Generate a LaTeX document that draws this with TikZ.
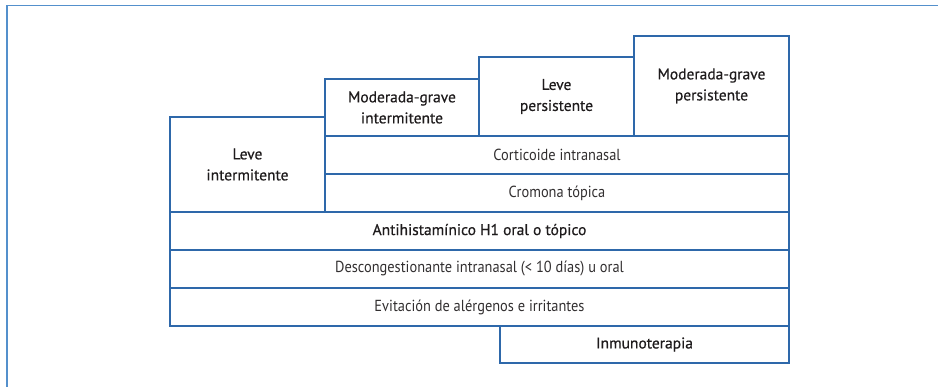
\documentclass[tikz,border=0pt]{standalone}
\usepackage{fontspec}
\setmainfont{PT Sans}
\newfontfamily\medfont{PT Sans}[FakeBold=0.5]
\newfontfamily\narrowfont{PT Sans}[FakeStretch=0.9]
\definecolor{framecol}{RGB}{84,144,204}
\definecolor{boxcol}{RGB}{46,104,170}
\definecolor{textcol}{RGB}{30,27,28}
\definecolor{lighttext}{RGB}{50,47,48}
\begin{document}
\begin{tikzpicture}[x=1pt, y=-1pt,
  cell/.style={draw=boxcol, line width=1.1pt, align=center, text=textcol,
    inner sep=0pt, font=\fontsize{15.5}{21}\selectfont\medfont},
  lightcell/.style={cell, text=lighttext, font=\fontsize{16}{20}\selectfont\narrowfont}]
\useasboundingbox (0,0) rectangle (938,387);

% Frame
\draw[framecol, line width=1.5pt] (7,387) -- (7,5.5) -- (938,5.5);

% Severity headers
\node[cell, minimum width=155, minimum height=95] (levint) at (247.5,164.5) {Leve\\intermitente};
\node[cell, minimum width=154, minimum height=57] (modint) at (402,107.5) {Moderada-grave\\intermitente};
\node[cell, minimum width=155, minimum height=79] (levper) at (556.5,96.5) {Leve\\persistente};
\node[cell, minimum width=155, minimum height=100] (modper) at (711.5,86) {Moderada-grave\\persistente};

% Treatment rows
\node[lightcell, minimum width=464, minimum height=38] (cortic) at (557,155) {Corticoide intranasal};
\node[lightcell, minimum width=464, minimum height=38] (cromona) at (557,193) {Cromona tópica};
\node[cell, minimum width=619, minimum height=38] (antih) at (479.5,231) {Antihistamínico H1 oral o tópico};
\node[lightcell, minimum width=619, minimum height=38] (descong) at (479.5,269) {Descongestionante intranasal (< 10 días) u oral};
\node[lightcell, minimum width=619, minimum height=38] (evitac) at (479.5,307) {Evitación de alérgenos e irritantes};
\node[cell, minimum width=289, minimum height=37] (inmuno) at (644.5,344.5) {Inmunoterapia};
\end{tikzpicture}
\end{document}
